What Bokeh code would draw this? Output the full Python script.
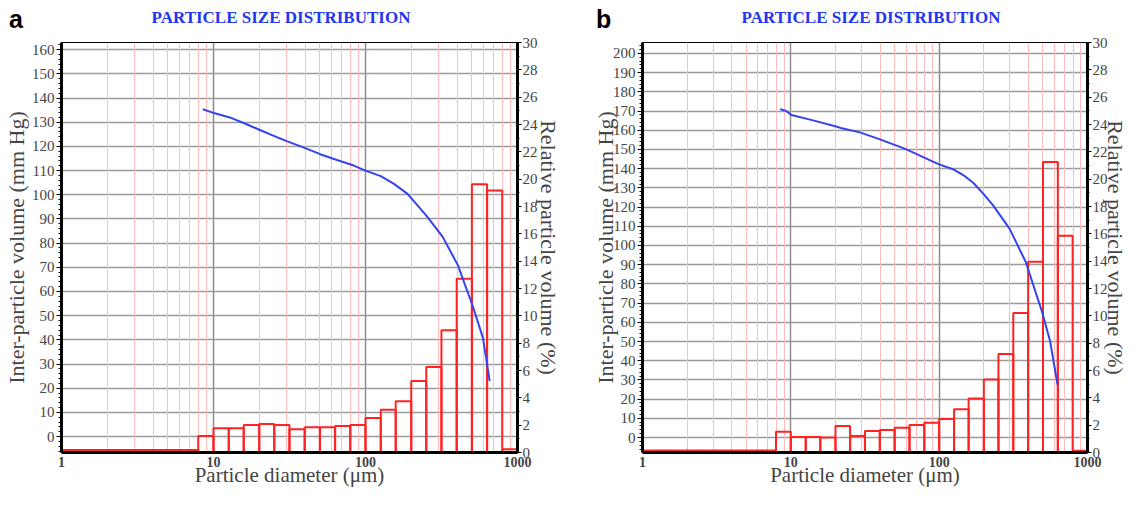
from bokeh.plotting import figure
from bokeh.layouts import row, column
from bokeh.models import (Range1d, LinearAxis, SingleIntervalTicker, FixedTicker,
                          Grid, ColumnDataSource, NumeralTickFormatter, Div)
from bokeh.embed import file_html
from bokeh.resources import INLINE

# ---------------- data ----------------
bin_edges = [1, 1.26, 1.58, 2.0, 2.51, 3.16, 3.98, 5.01, 6.31, 7.94,
             10, 12.6, 15.8, 20.0, 25.1, 31.6, 39.8, 50.1, 63.1, 79.4,
             100, 126, 158, 200, 251, 316, 398, 501, 631, 794, 1000]

rel_a = [0.18, 0.18, 0.18, 0.18, 0.18, 0.18, 0.18, 0.18, 0.18,
         1.21, 1.77, 1.77, 2.02, 2.09, 2.02, 1.70, 1.85, 1.85, 1.94, 2.02,
         2.52, 3.13, 3.75, 5.23, 6.25, 8.95, 12.72, 19.63, 19.17, 0.24]
rel_b = [0.15, 0.15, 0.15, 0.15, 0.15, 0.15, 0.15, 0.15, 0.15,
         1.51, 1.14, 1.14, 1.09, 1.94, 1.21, 1.58, 1.65, 1.82, 2.01, 2.18,
         2.45, 3.16, 3.95, 5.34, 7.20, 10.2, 13.96, 21.25, 15.86, 0.12]

curve_a_d = [8.5, 10.2, 12.8, 16.5, 20.2, 24.7, 30.3, 39.0, 50.3, 64.9, 83.7,
             100, 126, 154, 189, 225, 256, 322, 405, 509, 593, 656]
curve_a_v = [135.4, 133.7, 132.0, 129.2, 126.8, 124.5, 122.2, 119.6, 116.8,
             114.4, 112.1, 110.0, 107.7, 104.5, 100.4, 94.9, 90.8, 82.6,
             70.9, 53.8, 40.7, 22.9]

curve_b_d = [8.47, 9.3, 10.1, 13.7, 20.5, 22.1, 29.2, 39.5, 59.1, 98, 125,
             147, 171, 200, 231, 298, 383, 493, 560, 628]
curve_b_v = [171.0, 170.0, 167.9, 165.4, 161.8, 161.0, 158.9, 155.4, 150.3,
             142.5, 139.6, 136.4, 132.4, 126.6, 120.9, 108.8, 91.5, 65.6,
             50.1, 27.6]

x_ticks = [1, 10, 100, 1000]
pink_lines = [m * 10 ** d for d in range(3) for m in range(2, 10)]
panel_letters = ["a", "b"]
panel_title = "PARTICLE SIZE DISTRIBUTION"

SERIF = "Liberation Serif"
BLUE_T = "#2236ee"
HEAD_H = 34
FIG_H = 489 - HEAD_H


def make_panel(rel, cd, cv, yrange, width, left_std, right_std, min_left):
    p = figure(width=width, height=FIG_H, x_axis_type="log", title=None,
               x_range=Range1d(1, 1000), y_range=Range1d(*yrange),
               output_backend="svg", toolbar_location=None,
               min_border_left=min_left, min_border_right=10,
               min_border_top=8, min_border_bottom=10)
    p.extra_y_ranges = {"pct": Range1d(0, 30)}
    p.background_fill_color = "white"
    p.border_fill_color = "white"
    p.outline_line_color = "black"
    p.outline_line_width = 1

    # grids
    p.xgrid.ticker = FixedTicker(ticks=[10, 100])
    p.xgrid.grid_line_color = "#8c8c8c"
    p.xgrid.grid_line_width = 1.5
    pg = Grid(dimension=0, ticker=FixedTicker(ticks=pink_lines),
              grid_line_color="#ffbcbc", grid_line_width=1)
    p.add_layout(pg)
    p.ygrid.ticker = SingleIntervalTicker(interval=10)
    p.ygrid.grid_line_color = "#9a9a9a"
    p.ygrid.grid_line_width = 1.5

    # x axis
    xa = p.xaxis[0]
    xa.ticker = FixedTicker(ticks=x_ticks)
    xa.formatter = NumeralTickFormatter(format="0")
    xa.axis_label = "Particle diameter (μm)"
    xa.axis_label_text_font = SERIF
    xa.axis_label_text_font_style = "normal"
    xa.axis_label_text_font_size = "21px"
    xa.axis_label_standoff = -7
    xa.major_label_text_font = SERIF
    xa.major_label_text_font_style = "bold"
    xa.major_label_text_font_size = "14px"
    xa.major_label_standoff = 4
    xa.axis_line_width = 3
    xa.major_tick_out = 0
    xa.major_tick_in = 0
    xa.minor_tick_out = 0
    xa.minor_tick_in = 0

    # left axis
    ya = p.yaxis[0]
    ya.ticker = SingleIntervalTicker(interval=10, num_minor_ticks=5)
    ya.axis_label = "Inter-particle volume (mm Hg)"
    ya.axis_label_text_font = SERIF
    ya.axis_label_text_font_style = "normal"
    ya.axis_label_text_font_size = "22px"
    ya.axis_label_standoff = left_std
    ya.major_label_text_font = SERIF
    ya.major_label_text_font_size = "15px"
    ya.major_label_standoff = 2
    ya.axis_line_width = 3
    ya.major_tick_out = 5
    ya.major_tick_in = 0
    ya.minor_tick_out = 3
    ya.minor_tick_in = 0

    # right axis
    ra = LinearAxis(y_range_name="pct",
                    ticker=SingleIntervalTicker(interval=2, num_minor_ticks=2),
                    axis_label="Relative particle volume (%)")
    ra.axis_label_text_font = SERIF
    ra.axis_label_text_font_style = "normal"
    ra.axis_label_text_font_size = "22px"
    ra.axis_label_standoff = right_std
    ra.major_label_text_font = SERIF
    ra.major_label_text_font_size = "15px"
    ra.major_label_standoff = 1
    ra.axis_line_width = 3
    ra.major_tick_out = 4
    ra.major_tick_in = 0
    ra.minor_tick_out = 2
    ra.minor_tick_in = 0
    p.add_layout(ra, "right")

    # bars
    src = ColumnDataSource(dict(left=bin_edges[:-1], right=bin_edges[1:],
                                top=rel, bottom=[0] * len(rel)))
    p.quad(left="left", right="right", top="top", bottom="bottom", source=src,
           y_range_name="pct", fill_color=None, line_color="#ff2222",
           line_width=2)

    # curve
    p.line(cd, cv, line_color="#3344ee", line_width=2)
    return p


pa = make_panel(rel_a, curve_a_d, curve_a_v, (-6.6, 163.0), 563, 0, -5, 10)
pb = make_panel(rel_b, curve_b_d, curve_b_v, (-7.8, 205.7), 567, -8, -8, 79)

letter_css = ("position:absolute; top:7px; font-family:'Liberation Sans'; "
              "font-weight:bold; font-size:25px; line-height:25px; color:black;")
title_css = ("position:absolute; top:9px; transform:translateX(-50%); "
             "white-space:nowrap; font-family:'Liberation Serif'; font-weight:bold; "
             "font-size:17px; line-height:17px; color:" + BLUE_T + ";")
head_html = (
    '<div style="position:relative; width:1130px; height:' + str(HEAD_H) + 'px;">'
    + '<span style="' + letter_css + ' left:9px;">' + panel_letters[0] + '</span>'
    + '<span style="' + title_css + ' left:281px;">' + panel_title + '</span>'
    + '<span style="' + letter_css + ' left:596px;">' + panel_letters[1] + '</span>'
    + '<span style="' + title_css + ' left:871px;">' + panel_title + '</span>'
    + '</div>'
)
header = Div(text=head_html, width=1130, height=HEAD_H, margin=0)

layout = column(header, row(pa, pb, spacing=0), spacing=0)
open("out.html", "w").write(file_html(layout, INLINE))
